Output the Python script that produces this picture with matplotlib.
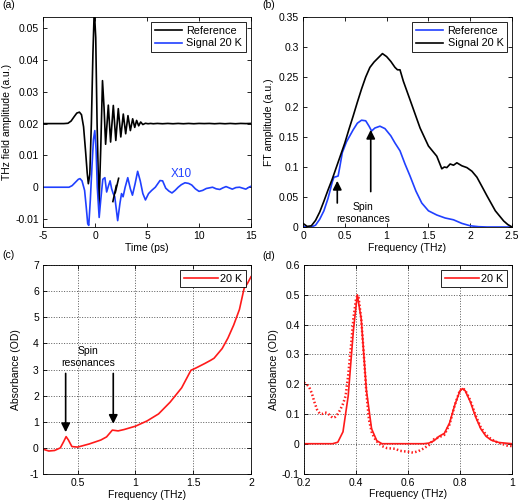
import numpy as np
import matplotlib
matplotlib.use('Agg')
import matplotlib.pyplot as plt
from matplotlib.ticker import FormatStrFormatter

plt.rcParams['font.family'] = ['Liberation Sans', 'DejaVu Sans']
plt.rcParams['font.size'] = 7.5
plt.rcParams['axes.unicode_minus'] = False

# (a) time domain waveforms
t_ref = [-5, -3, -2.6, -2.3, -2.0, -1.75, -1.5, -1.3, -1.1, -0.9, -0.75, -0.64, -0.5, -0.35,
         -0.2, -0.07, 0.07, 0.2, 0.38, 0.55, 0.72, 0.87, 1.02, 1.28, 1.5, 1.76, 2.0, 2.24,
         2.48, 2.72, 2.95, 3.17, 3.4, 3.62, 3.82, 4.0, 4.2, 4.39, 4.6, 4.85, 5.1, 5.35, 5.6,
         6.0, 6.5, 7.0, 7.5, 8.0, 8.5, 9.0, 9.5, 10.0, 10.5, 11.0, 11.5, 12.0, 12.5, 13.0,
         13.5, 14.0, 14.5, 15.0]
v_ref = [0.02, 0.02, 0.0201, 0.0208, 0.0222, 0.0233, 0.0236, 0.0228, 0.019, 0.011, 0.0045,
         0.0011, 0.004, 0.02, 0.042, 0.056, 0.047, 0.02, -0.006, 0.012, 0.0335, 0.025, 0.0135,
         0.0258, 0.0142, 0.0257, 0.0147, 0.0247, 0.0158, 0.023, 0.0168, 0.0225, 0.0178, 0.0215,
         0.0188, 0.021, 0.0193, 0.0205, 0.0197, 0.0201, 0.01995, 0.02005, 0.01995, 0.02005,
         0.01995, 0.02005, 0.01995, 0.02005, 0.01995, 0.02005, 0.01995, 0.02005, 0.02, 0.02005,
         0.01995, 0.02005, 0.01995, 0.02005, 0.01995, 0.02005, 0.02, 0.02005]

t_sig = [-5, -3, -2.5, -2.2, -1.9, -1.6, -1.44, -1.25, -1.0, -0.85, -0.7, -0.6, -0.45, -0.3,
         -0.15, -0.02, 0.1, 0.22, 0.4, 0.55, 0.75, 0.95, 1.12, 1.3, 1.45, 1.6, 1.75, 1.9, 2.05,
         2.18, 2.4, 2.55, 2.7, 2.9, 3.15, 3.4, 3.6, 3.85, 4.1, 4.35, 4.6, 4.85, 5.15, 5.45, 5.8,
         6.25, 6.5, 6.8, 7.1, 7.4, 7.7, 8.0, 8.3, 8.65, 9.0, 9.3, 9.65, 10.0, 10.35, 10.7, 11.0,
         11.3, 11.65, 12.0, 12.3, 12.6, 12.9, 13.2, 13.55, 13.9, 14.2, 14.5, 14.8, 15.0]
v_sig = [0, 0, 0, 0.0005, 0.0015, 0.0025, 0.0027, 0.002, -0.001, -0.006, -0.0115, -0.012,
         -0.004, 0.006, 0.015, 0.0178, 0.012, 0.0, -0.0095, -0.004, 0.0025, 0.003, -0.0015,
         0.0005, 0.002, -0.0005, -0.002, -0.003, -0.007, -0.0105, -0.005, -0.002, -0.003, 0.0,
         0.003, -0.0005, -0.0025, 0.001, 0.005, 0.002, -0.002, -0.004, -0.002, -0.001, 0.0,
         0.0021, 0.002, -0.0003, -0.0012, -0.0018, -0.001, 0.0, 0.0008, 0.0014, 0.0012, 0.0007,
         -0.0005, -0.0013, -0.001, -0.0004, -0.0002, 0.0, -0.0005, -0.0007, -0.0002, 0.0002,
         -0.0002, -0.0006, -0.0001, 0.0, -0.0003, -0.0006, 0.0, 0.0003]

# (b) FT amplitudes
f_ft_sig = [0, 0.05, 0.1, 0.15, 0.2, 0.25, 0.3, 0.35, 0.4, 0.45, 0.5, 0.55, 0.6, 0.65, 0.7,
            0.75, 0.8, 0.85, 0.9, 0.95, 1.0, 1.05, 1.1, 1.13, 1.16, 1.2, 1.28, 1.4, 1.5, 1.6,
            1.66, 1.69, 1.72, 1.76, 1.8, 1.84, 1.9, 1.96, 2.02, 2.08, 2.15, 2.2, 2.3, 2.4, 2.45, 2.5]
a_ft_sig = [0.006, 0.001, 0.002, 0.011, 0.025, 0.043, 0.062, 0.08, 0.1, 0.12, 0.14, 0.163,
            0.185, 0.208, 0.23, 0.25, 0.266, 0.275, 0.282, 0.289, 0.284, 0.276, 0.266, 0.262,
            0.262, 0.243, 0.212, 0.165, 0.135, 0.118, 0.097, 0.1, 0.099, 0.105, 0.103, 0.107,
            0.102, 0.099, 0.093, 0.083, 0.065, 0.052, 0.027, 0.01, 0.004, 0.0]
f_ft_ref = [0, 0.05, 0.1, 0.15, 0.2, 0.25, 0.3, 0.35, 0.37, 0.4, 0.42, 0.44, 0.47, 0.52, 0.6,
            0.65, 0.7, 0.75, 0.79, 0.82, 0.86, 0.92, 0.98, 1.05, 1.1, 1.16, 1.22, 1.28, 1.35,
            1.42, 1.5, 1.6, 1.7, 1.8, 1.9, 2.0, 2.1, 2.2, 2.5]
a_ft_ref = [0.001, 0.0, 0.0, 0.003, 0.013, 0.027, 0.048, 0.075, 0.083, 0.084, 0.085, 0.1,
            0.124, 0.142, 0.162, 0.173, 0.178, 0.177, 0.168, 0.16, 0.165, 0.168, 0.164, 0.152,
            0.14, 0.127, 0.105, 0.085, 0.06, 0.04, 0.027, 0.02, 0.015, 0.012, 0.006, 0.002,
            0.0005, 0.0, 0.0]

# (c) absorbance 0.2-2 THz
f_abs = [0.2, 0.25, 0.3, 0.35, 0.38, 0.4, 0.42, 0.45, 0.5, 0.6, 0.7, 0.75, 0.8, 0.85, 0.9,
         1.0, 1.1, 1.2, 1.3, 1.4, 1.48, 1.52, 1.6, 1.65, 1.68, 1.75, 1.8, 1.85, 1.9, 1.94,
         1.97, 2.0]
od_abs = [-0.05, -0.12, -0.1, 0.0, 0.25, 0.43, 0.3, 0.05, 0.03, 0.15, 0.3, 0.42, 0.68, 0.65,
          0.7, 0.83, 1.03, 1.3, 1.75, 2.3, 2.97, 3.05, 3.23, 3.35, 3.43, 3.8, 4.2, 4.7, 5.3,
          6.1, 6.3, 6.55]

# (d) absorbance, data and fit
f_dat = [0.2, 0.21, 0.22, 0.23, 0.24, 0.25, 0.26, 0.27, 0.28, 0.29, 0.3, 0.31, 0.32, 0.33,
         0.34, 0.35, 0.36, 0.37, 0.38, 0.39, 0.4, 0.405, 0.41, 0.42, 0.43, 0.44, 0.45, 0.46,
         0.47, 0.48, 0.5, 0.52, 0.55, 0.57, 0.6, 0.62, 0.64, 0.66, 0.68, 0.7, 0.72, 0.74, 0.76,
         0.78, 0.8, 0.81, 0.82, 0.84, 0.86, 0.88, 0.9, 0.92, 0.94, 0.96, 0.98, 1.0]
od_dat = [0.205, 0.2, 0.19, 0.17, 0.14, 0.115, 0.102, 0.1, 0.105, 0.103, 0.095, 0.087, 0.09,
          0.1, 0.115, 0.134, 0.16, 0.23, 0.32, 0.42, 0.485, 0.497, 0.49, 0.42, 0.3, 0.17, 0.08,
          0.04, 0.02, 0.008, -0.008, -0.015, -0.017, -0.024, -0.027, -0.03, -0.025, -0.016,
          -0.005, 0.015, 0.022, 0.03, 0.065, 0.13, 0.18, 0.186, 0.18, 0.145, 0.095, 0.055, 0.03,
          0.015, 0.006, 0.0, -0.006, -0.008]
f_fit = [0.2, 0.31, 0.33, 0.35, 0.37, 0.39, 0.405, 0.42, 0.44, 0.46, 0.48, 0.5, 0.66, 0.68,
         0.7, 0.72, 0.74, 0.76, 0.78, 0.8, 0.81, 0.82, 0.84, 0.86, 0.88, 0.9, 0.92, 0.95, 1.0]
od_fit = [0, 0, 0.005, 0.04, 0.16, 0.38, 0.5, 0.42, 0.18, 0.05, 0.01, 0.0, 0.0, 0.002, 0.01,
          0.025, 0.035, 0.07, 0.13, 0.178, 0.185, 0.178, 0.14, 0.09, 0.05, 0.025, 0.012, 0.004, 0.0]

blue = '#2040ff'
red = '#ff1a1a'

fig = plt.figure(figsize=(5.2, 5.0), dpi=100)
axa = fig.add_axes([0.0827, 0.546, 0.4, 0.42])
axb = fig.add_axes([0.5827, 0.546, 0.402, 0.42])
axc = fig.add_axes([0.0827, 0.052, 0.4, 0.418])
axd = fig.add_axes([0.5846, 0.053, 0.4, 0.417])

for ax in (axa, axb, axc, axd):
    ax.tick_params(direction='in', top=True, right=True, length=3, width=0.6, pad=3)
    for s in ax.spines.values():
        s.set_linewidth(0.6)

def legend(ax, hl=2.5, tp=0.4):
    lg = ax.legend(loc='upper right', frameon=True, fancybox=False, framealpha=1,
                   edgecolor='k', handlelength=hl, handletextpad=tp, borderaxespad=0.45,
                   borderpad=0.35, labelspacing=0.25, fontsize=7.8)
    lg.get_frame().set_linewidth(0.6)

# (a)
axa.plot(t_ref, v_ref, color='k', lw=1.2, label='Reference')
axa.plot(t_sig, v_sig, color=blue, lw=1.2, label='Signal 20 K')
axa.plot([1.72, 2.05], [-0.0045, 0.0005], color='k', lw=1.2)
axa.plot([1.95, 2.27], [-0.0017, 0.0028], color='k', lw=1.2)
axa.text(8.3, 0.0043, 'X10', color=blue, fontsize=8.5, ha='center', va='center')
axa.set_xlim(-5, 15)
axa.set_ylim(-0.0125, 0.0535)
axa.set_xticks([-5, 0, 5, 10, 15])
axa.set_yticks([-0.01, 0, 0.01, 0.02, 0.03, 0.04, 0.05])
axa.yaxis.set_major_formatter(FormatStrFormatter('%g'))
axa.set_xlabel('Time (ps)', labelpad=1)
axa.set_ylabel('THz field amplitude (a.u.)', labelpad=2)
legend(axa)

# (b)
axb.plot(f_ft_ref, a_ft_ref, color=blue, lw=1.2, label='Reference')
axb.plot(f_ft_sig, a_ft_sig, color='k', lw=1.2, label='Signal 20 K')
arr = dict(arrowstyle='-|>', color='k', lw=1.2, mutation_scale=13, shrinkA=0, shrinkB=0)
axb.annotate('', xy=(0.41, 0.077), xytext=(0.41, 0.04), arrowprops=arr)
axb.annotate('', xy=(0.81, 0.162), xytext=(0.81, 0.059), arrowprops=arr)
axb.text(0.72, 0.024, 'Spin\nresonances', ha='center', va='center', linespacing=1.25)
axb.set_xlim(0, 2.5)
axb.set_ylim(0, 0.35)
axb.set_xticks([0, 0.5, 1, 1.5, 2, 2.5])
axb.set_yticks(np.arange(0, 0.36, 0.05))
axb.xaxis.set_major_formatter(FormatStrFormatter('%g'))
axb.yaxis.set_major_formatter(FormatStrFormatter('%g'))
axb.set_xlabel('Frequency (THz)', labelpad=1)
axb.set_ylabel('FT amplitude (a.u.)', labelpad=3)
legend(axb)

# (c)
axc.plot(f_abs, od_abs, color=red, lw=1.2, label='20 K')
axc.annotate('', xy=(0.396, 0.6), xytext=(0.396, 2.85), arrowprops=arr)
axc.annotate('', xy=(0.808, 0.92), xytext=(0.808, 2.85), arrowprops=arr)
axc.text(0.59, 3.48, 'Spin\nresonances', ha='center', va='center', linespacing=1.25)
axc.set_xlim(0.2, 2)
axc.set_ylim(-1, 7)
axc.set_xticks([0.5, 1, 1.5, 2])
axc.set_yticks(range(-1, 8))
axc.xaxis.set_major_formatter(FormatStrFormatter('%g'))
axc.grid(True, linestyle=':', color='0.35', lw=0.7)
axc.set_xlabel('Frequency (THz)', labelpad=1)
axc.set_ylabel('Absorbance (OD)', labelpad=6)
legend(axc, hl=3.2, tp=0.15)

# (d)
axd.plot(f_dat, od_dat, color=red, lw=1.8, ls=(0, (0.6, 0.9)))
axd.plot(f_fit, od_fit, color=red, lw=1.2, label='20 K')
axd.set_xlim(0.2, 1)
axd.set_ylim(-0.1, 0.6)
axd.set_xticks([0.2, 0.4, 0.6, 0.8, 1])
axd.set_yticks([-0.1, 0, 0.1, 0.2, 0.3, 0.4, 0.5, 0.6])
axd.xaxis.set_major_formatter(FormatStrFormatter('%g'))
axd.yaxis.set_major_formatter(FormatStrFormatter('%g'))
axd.grid(True, linestyle=':', color='0.35', lw=0.7)
axd.set_xlabel('Frequency (THz)', labelpad=1)
axd.set_ylabel('Absorbance (OD)', labelpad=2)
legend(axd, hl=3.2, tp=0.15)

fig.text(0.004, 0.99, '(a)', va='center', ha='left', fontsize=7.5)
fig.text(0.504, 0.99, '(b)', va='center', ha='left', fontsize=7.5)
fig.text(0.004, 0.49, '(c)', va='center', ha='left', fontsize=7.5)
fig.text(0.504, 0.488, '(d)', va='center', ha='left', fontsize=7.5)

fig.savefig('out.png', dpi=100)
